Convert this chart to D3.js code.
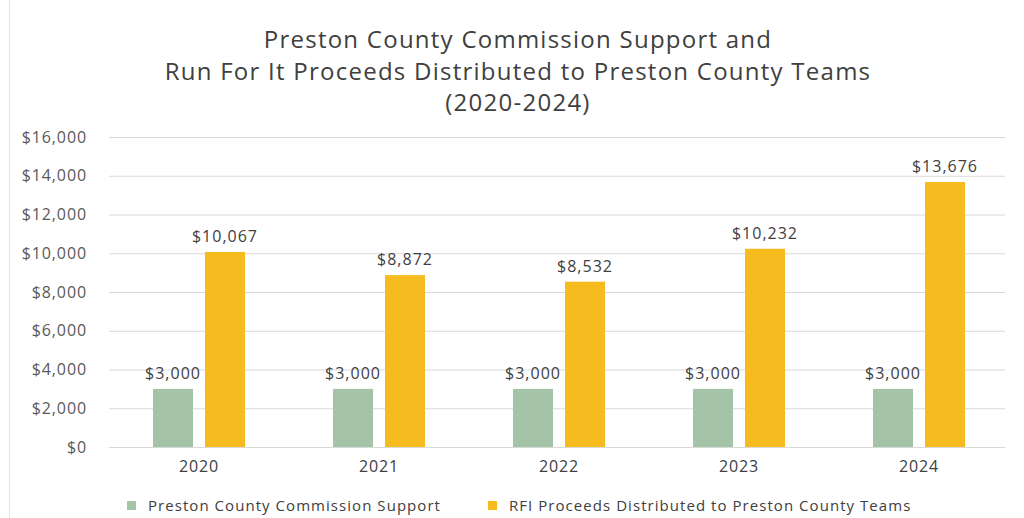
<!DOCTYPE html>
<html>
<head>
<meta charset="utf-8">
<script src="https://cdn.jsdelivr.net/npm/d3@7"></script>
<style>
  body { margin: 0; background: #fff; }
  svg { display: block; font-family: "Open Sans", sans-serif; }
</style>
</head>
<body>
<div id="chart"></div>
<script>
// data
const years = ["2020", "2021", "2022", "2023", "2024"];
const commissionSupport = [3000, 3000, 3000, 3000, 3000];
const rfiProceeds = [10067, 8872, 8532, 10232, 13676];
const seriesNames = ["Preston County Commission Support", "RFI Proceeds Distributed to Preston County Teams"];
const yTicks = [0, 2000, 4000, 6000, 8000, 10000, 12000, 14000, 16000];
const titleLines = [
    "Preston County Commission Support and",
    "Run For It Proceeds Distributed to Preston County Teams",
    "(2020-2024)"
];

const width = 1024, height = 518;
const marginLeft = 109, marginRight = 15, marginTop = 137, marginBottom = 71;
const colors = ["#a5c3a9", "#f6bc1f"];

const svg = d3.select("#chart").append("svg")
    .attr("width", width)
    .attr("height", height)
    .attr("viewBox", [0, 0, width, height]);

// scan edge line on the left
svg.append("line")
    .attr("x1", 9.5).attr("x2", 9.5)
    .attr("y1", 0).attr("y2", height)
    .attr("stroke", "#e4e4e4");

const x = d3.scaleBand(years, [marginLeft, width - marginRight]).padding(0);
const xSeries = d3.scaleBand([0, 1], [0, x.bandwidth()]).paddingInner(0.23).paddingOuter(0.846);
const y = d3.scaleLinear([0, 16000], [height - marginBottom, marginTop]);

// title
svg.append("g")
    .selectAll("text")
    .data(titleLines)
    .join("text")
    .attr("x", 518)
    .attr("y", (d, i) => 48 + i * 31.5)
    .attr("text-anchor", "middle")
    .attr("fill", "#404040")
    .attr("font-size", 24)
    .attr("letter-spacing", 1.25)
    .text(d => d);

// y axis + gridlines
const yAxis = d3.axisLeft(y).tickValues(yTicks).tickFormat(d => "$" + d3.format(",")(d)).tickSize(0).tickPadding(22);
svg.append("g")
    .attr("transform", `translate(${marginLeft},0)`)
    .call(yAxis)
    .call(g => g.select(".domain").remove())
    .call(g => g.selectAll(".tick text")
        .attr("fill", "#595959")
        .attr("font-size", 16)
        .attr("letter-spacing", 0.9)
        .attr("font-family", "Open Sans, sans-serif"))
    .call(g => g.selectAll(".tick line").clone()
        .attr("x2", width - marginLeft - marginRight - 4)
        .attr("stroke", "#d9d9d9")
        .attr("stroke-width", 1));

// bars
const series = [commissionSupport, rfiProceeds];
const group = svg.append("g")
    .selectAll("g")
    .data(years)
    .join("g")
    .attr("transform", d => `translate(${x(d)},0)`);

group.selectAll("rect")
    .data((d, i) => series.map((s, k) => ({k, v: s[i]})))
    .join("rect")
    .attr("x", d => xSeries(d.k))
    .attr("y", d => y(d.v))
    .attr("width", xSeries.bandwidth())
    .attr("height", d => y(0) - y(d.v))
    .attr("fill", d => colors[d.k]);

group.selectAll("text.label")
    .data((d, i) => series.map((s, k) => ({k, v: s[i]})))
    .join("text")
    .attr("class", "label")
    .attr("x", d => xSeries(d.k) + xSeries.bandwidth() / 2)
    .attr("y", d => y(d.v) - 10)
    .attr("text-anchor", "middle")
    .attr("fill", "#404040")
    .attr("font-size", 16)
    .attr("letter-spacing", 1)
    .text(d => "$" + d3.format(",")(d.v));

// x axis
const xAxis = d3.axisBottom(x).tickSize(0).tickPadding(14);
svg.append("g")
    .attr("transform", `translate(0,${y(0)})`)
    .call(xAxis)
    .call(g => g.select(".domain").remove())
    .call(g => g.selectAll(".tick text")
        .attr("fill", "#404040")
        .attr("font-size", 16)
        .attr("letter-spacing", 0.8)
        .attr("font-family", "Open Sans, sans-serif"));

// legend
const legendX = [127, 488];
const legend = svg.append("g")
    .selectAll("g")
    .data(seriesNames)
    .join("g")
    .attr("transform", (d, i) => `translate(${legendX[i]},501)`);
legend.append("rect")
    .attr("width", 9).attr("height", 9)
    .attr("fill", (d, i) => colors[i]);
legend.append("text")
    .attr("x", 21)
    .attr("y", 10)
    .attr("fill", "#404040")
    .attr("font-size", 15)
    .attr("letter-spacing", 1.05)
    .text(d => d);
</script>
</body>
</html>
